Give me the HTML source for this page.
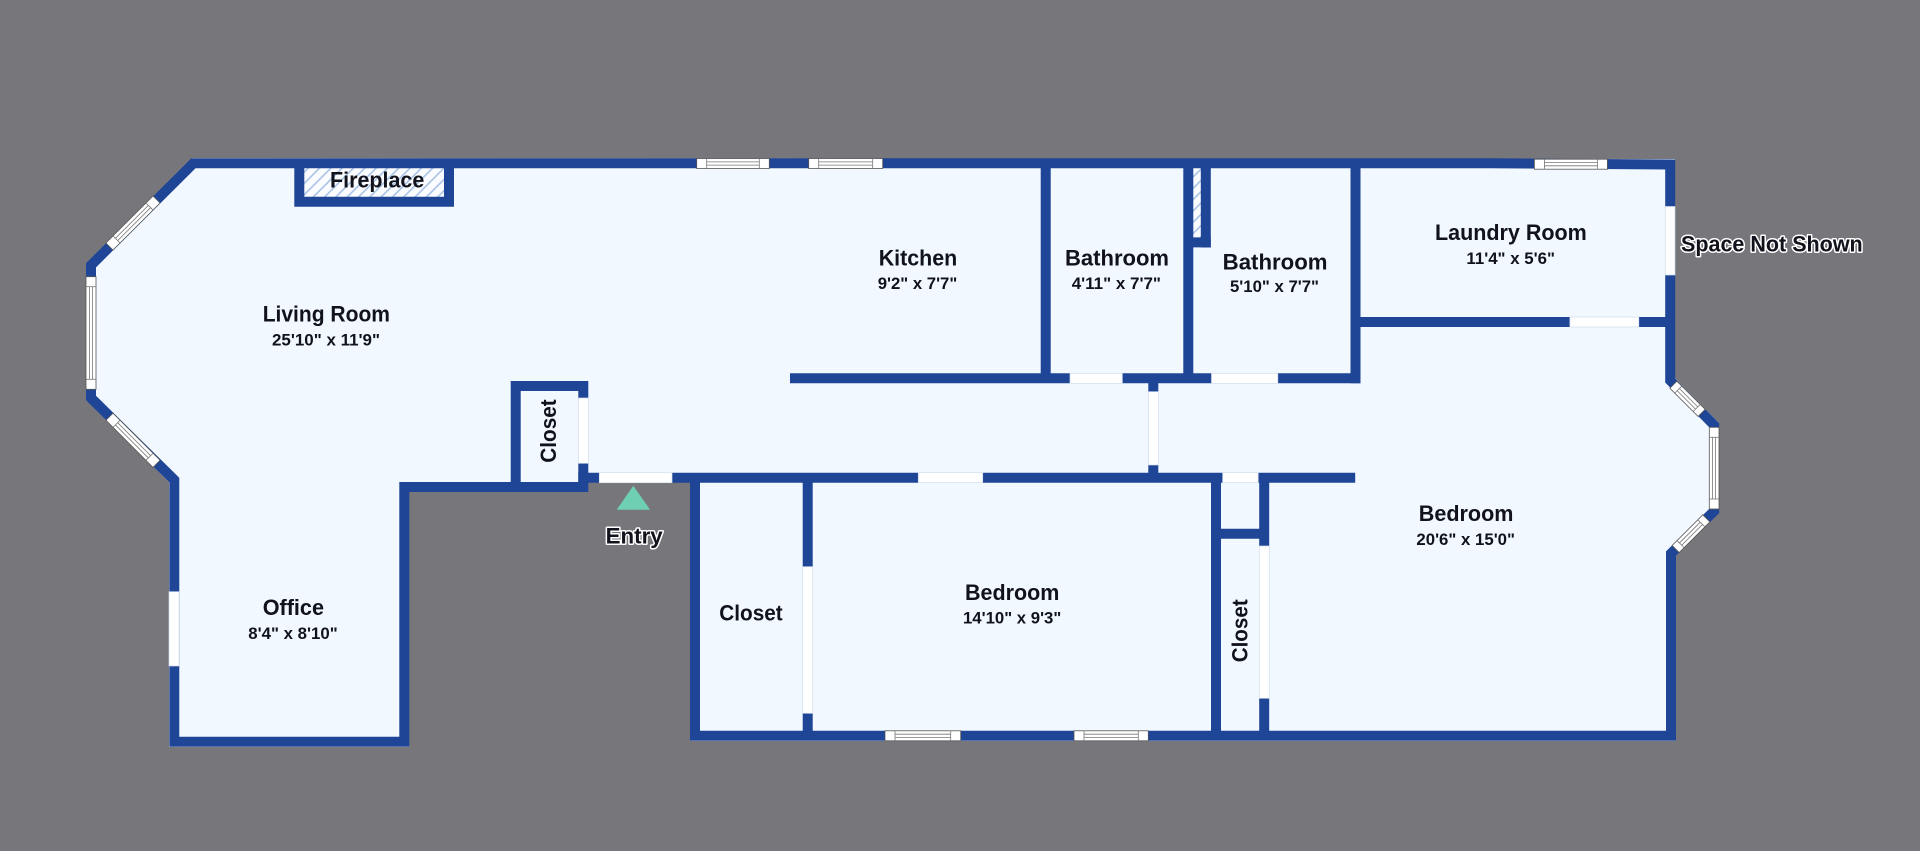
<!DOCTYPE html>
<html lang="en">
<head>
<meta charset="utf-8">
<title>Floor plan</title>
<style>
html,body{margin:0;padding:0;width:1920px;height:851px;overflow:hidden;background:#77767b}
svg{display:block}
text{font-family:"Liberation Sans",sans-serif;font-weight:700;fill:#11121b}
.n{font-size:22px}
.d{font-size:17px}
.o{paint-order:stroke;stroke:#fff;stroke-width:3px;stroke-linejoin:round}
.w{fill:none;stroke:#1f4596;stroke-width:10;stroke-linejoin:miter;stroke-miterlimit:6}
.door{fill:#fff;stroke:#cfdbee;stroke-width:.7}
.win rect{fill:#fff;stroke:#555;stroke-width:.8}
.win line{stroke:#777;stroke-width:.8}
</style>
</head>
<body>
<svg xmlns="http://www.w3.org/2000/svg" width="1920" height="851" viewBox="0 0 1920 851">
<defs>
<pattern id="h" width="8" height="8" patternUnits="userSpaceOnUse" patternTransform="rotate(45)">
<rect width="8" height="8" fill="#fafcff"/>
<rect width="1.6" height="8" fill="#a9c3e6"/>
</pattern>
</defs>
<rect width="1920" height="851" fill="#77767b"/>

<!-- floor -->
<polygon fill="#f1f8ff" points="192,158 1675,159 1675,378 1719,423 1719,513 1676,555 1676,741 690,741 690,482 588,482 588,492 409,492 409,747 169,747 169,482 86,400 86,264"/>

<!-- hatches -->
<rect x="304" y="168" width="140" height="29" fill="url(#h)"/>
<rect x="1192" y="168" width="9" height="70" fill="url(#h)"/>

<!-- outer walls -->
<polyline class="w" points="174.3,480 91,398 91,265.3 193.4,163.3 1490,163.3 1670.2,164.5 1670.2,380.5 1714.2,425.3 1714.2,511 1671,553.5 1671,735.7 695,735.7 695,477.7"/>
<polyline class="w" points="91,398 174.3,480 174.3,741.7 404.3,741.7 404.3,487 583.3,487 583.3,386 515.7,386 515.7,487"/>
<line class="w" x1="578.3" y1="477.7" x2="1355.2" y2="477.7"/>

<!-- fireplace -->
<polyline class="w" points="299.3,163 299.3,201.7 449,201.7 449,163"/>

<!-- interior walls -->
<line class="w" x1="1045.7" y1="163" x2="1045.7" y2="378"/>
<line class="w" x1="790" y1="378.3" x2="1360.3" y2="378.3"/>
<line class="w" x1="1188.3" y1="163" x2="1188.3" y2="378"/>
<line class="w" x1="1205.8" y1="163" x2="1205.8" y2="247.5"/>
<line class="w" x1="1192" y1="242.4" x2="1210.8" y2="242.4"/>
<line class="w" x1="1355.5" y1="163" x2="1355.5" y2="383.3"/>
<line class="w" x1="1355" y1="322" x2="1670" y2="322"/>
<line class="w" x1="1153.3" y1="383" x2="1153.3" y2="473"/>
<line class="w" x1="807.7" y1="482" x2="807.7" y2="736"/>
<line class="w" x1="1216" y1="482" x2="1216" y2="736"/>
<line class="w" x1="1264.2" y1="482" x2="1264.2" y2="736"/>
<line class="w" x1="1216" y1="533.7" x2="1264" y2="533.7"/>

<!-- doors -->
<rect class="door" x="599.3" y="472.7" width="72.7" height="10"/>
<rect class="door" x="918.3" y="472.7" width="64.4" height="10"/>
<rect class="door" x="1222.7" y="472.7" width="35.5" height="10"/>
<rect class="door" x="1070" y="373.3" width="52.3" height="10"/>
<rect class="door" x="1211.5" y="373.3" width="66.3" height="10"/>
<rect class="door" x="1569.9" y="317" width="68.9" height="10"/>
<rect class="door" x="1665.2" y="206.5" width="9.8" height="68.5"/>
<rect class="door" x="578.3" y="398" width="10" height="65.3"/>
<rect class="door" x="802.7" y="566.7" width="10" height="146.6"/>
<rect class="door" x="1259.2" y="546" width="10" height="152.3"/>
<rect class="door" x="169" y="591.7" width="10" height="74.3"/>
<rect class="door" x="1148.3" y="391.7" width="10" height="73.3"/>

<!-- windows -->
<g class="win" transform="translate(696.7,158.5)"><rect width="72.6" height="10"/><line x1="10" y1="0" x2="10" y2="10"/><line x1="62.6" y1="0" x2="62.6" y2="10"/><line x1="10" y1="3.4" x2="62.6" y2="3.4"/><line x1="10" y1="6.6" x2="62.6" y2="6.6"/></g>
<g class="win" transform="translate(808.7,158.5)"><rect width="74" height="10"/><line x1="10" y1="0" x2="10" y2="10"/><line x1="64" y1="0" x2="64" y2="10"/><line x1="10" y1="3.4" x2="64" y2="3.4"/><line x1="10" y1="6.6" x2="64" y2="6.6"/></g>
<g class="win" transform="translate(1534.4,159.2)"><rect width="73" height="10"/><line x1="10" y1="0" x2="10" y2="10"/><line x1="63" y1="0" x2="63" y2="10"/><line x1="10" y1="3.4" x2="63" y2="3.4"/><line x1="10" y1="6.6" x2="63" y2="6.6"/></g>
<g class="win" transform="translate(885,730.8)"><rect width="75.7" height="10"/><line x1="10" y1="0" x2="10" y2="10"/><line x1="65.7" y1="0" x2="65.7" y2="10"/><line x1="10" y1="3.4" x2="65.7" y2="3.4"/><line x1="10" y1="6.6" x2="65.7" y2="6.6"/></g>
<g class="win" transform="translate(1074,730.8)"><rect width="74.3" height="10"/><line x1="10" y1="0" x2="10" y2="10"/><line x1="64.3" y1="0" x2="64.3" y2="10"/><line x1="10" y1="3.4" x2="64.3" y2="3.4"/><line x1="10" y1="6.6" x2="64.3" y2="6.6"/></g>
<g class="win" transform="translate(96,276.7) rotate(90)"><rect width="112.6" height="10"/><line x1="10" y1="0" x2="10" y2="10"/><line x1="102.6" y1="0" x2="102.6" y2="10"/><line x1="10" y1="3.4" x2="102.6" y2="3.4"/><line x1="10" y1="6.6" x2="102.6" y2="6.6"/></g>
<g class="win" transform="translate(1719,427.3) rotate(90)"><rect width="81.7" height="9.7"/><line x1="10" y1="0" x2="10" y2="9.7"/><line x1="71.7" y1="0" x2="71.7" y2="9.7"/><line x1="10" y1="3.4" x2="71.7" y2="3.4"/><line x1="10" y1="6.4" x2="71.7" y2="6.4"/></g>
<g class="win" transform="translate(133,223) rotate(-45) translate(-33.3,-5)"><rect width="66.6" height="10"/><line x1="10" y1="0" x2="10" y2="10"/><line x1="56.6" y1="0" x2="56.6" y2="10"/><line x1="10" y1="3.4" x2="56.6" y2="3.4"/><line x1="10" y1="6.6" x2="56.6" y2="6.6"/></g>
<g class="win" transform="translate(133,440.3) rotate(45) translate(-33.3,-5)"><rect width="66.6" height="10"/><line x1="10" y1="0" x2="10" y2="10"/><line x1="56.6" y1="0" x2="56.6" y2="10"/><line x1="10" y1="3.4" x2="56.6" y2="3.4"/><line x1="10" y1="6.6" x2="56.6" y2="6.6"/></g>
<g class="win" transform="translate(1687.5,398.8) rotate(45) translate(-20,-5)"><rect width="40" height="10"/><line x1="7" y1="0" x2="7" y2="10"/><line x1="33" y1="0" x2="33" y2="10"/><line x1="7" y1="3.4" x2="33" y2="3.4"/><line x1="7" y1="6.6" x2="33" y2="6.6"/></g>
<g class="win" transform="translate(1691,533.7) rotate(-45) translate(-21.7,-5)"><rect width="43.4" height="10"/><line x1="7" y1="0" x2="7" y2="10"/><line x1="36.4" y1="0" x2="36.4" y2="10"/><line x1="7" y1="3.4" x2="36.4" y2="3.4"/><line x1="7" y1="6.6" x2="36.4" y2="6.6"/></g>

<!-- entry -->
<polygon points="633.3,485.7 650,509.7 616.7,509.7" fill="#6fcfb3"/>

<!-- labels -->
<text class="n" x="330" y="187.7" textLength="94.3" lengthAdjust="spacingAndGlyphs">Fireplace</text>
<text class="n" x="262.7" y="321.7" textLength="127.3" lengthAdjust="spacingAndGlyphs">Living Room</text>
<text class="d" x="272" y="345.3" textLength="108" lengthAdjust="spacingAndGlyphs">25'10" x 11'9"</text>
<text class="n" x="878.7" y="265.7" textLength="78.6" lengthAdjust="spacingAndGlyphs">Kitchen</text>
<text class="d" x="877.7" y="289" textLength="79.6" lengthAdjust="spacingAndGlyphs">9'2" x 7'7"</text>
<text class="n" x="1065" y="265.7" textLength="104" lengthAdjust="spacingAndGlyphs">Bathroom</text>
<text class="d" x="1071.7" y="289" textLength="89.3" lengthAdjust="spacingAndGlyphs">4'11" x 7'7"</text>
<text class="n" x="1222.7" y="269.3" textLength="104.8" lengthAdjust="spacingAndGlyphs">Bathroom</text>
<text class="d" x="1230" y="292" textLength="89" lengthAdjust="spacingAndGlyphs">5'10" x 7'7"</text>
<text class="n" x="1435" y="240" textLength="151.8" lengthAdjust="spacingAndGlyphs">Laundry Room</text>
<text class="d" x="1466.4" y="264" textLength="88.6" lengthAdjust="spacingAndGlyphs">11'4" x 5'6"</text>
<text class="n" x="1418.8" y="521" textLength="94.6" lengthAdjust="spacingAndGlyphs">Bedroom</text>
<text class="d" x="1416.4" y="545" textLength="98.6" lengthAdjust="spacingAndGlyphs">20'6" x 15'0"</text>
<text class="n" x="965" y="600" textLength="94.3" lengthAdjust="spacingAndGlyphs">Bedroom</text>
<text class="d" x="963" y="623.3" textLength="98.3" lengthAdjust="spacingAndGlyphs">14'10" x 9'3"</text>
<text class="n" x="262.7" y="615" textLength="61.3" lengthAdjust="spacingAndGlyphs">Office</text>
<text class="d" x="248.3" y="639" textLength="89.4" lengthAdjust="spacingAndGlyphs">8'4" x 8'10"</text>
<text class="n" x="719.3" y="620.7" textLength="63.4" lengthAdjust="spacingAndGlyphs">Closet</text>
<text class="n" transform="translate(556,462.7) rotate(-90)" textLength="63.4" lengthAdjust="spacingAndGlyphs">Closet</text>
<text class="n" transform="translate(1247.5,662.3) rotate(-90)" textLength="63" lengthAdjust="spacingAndGlyphs">Closet</text>
<text class="n o" x="605.7" y="543.3" textLength="57" lengthAdjust="spacingAndGlyphs">Entry</text>
<text class="n o" x="1681" y="251.7" textLength="181.7" lengthAdjust="spacingAndGlyphs">Space Not Shown</text>
</svg>
</body>
</html>
